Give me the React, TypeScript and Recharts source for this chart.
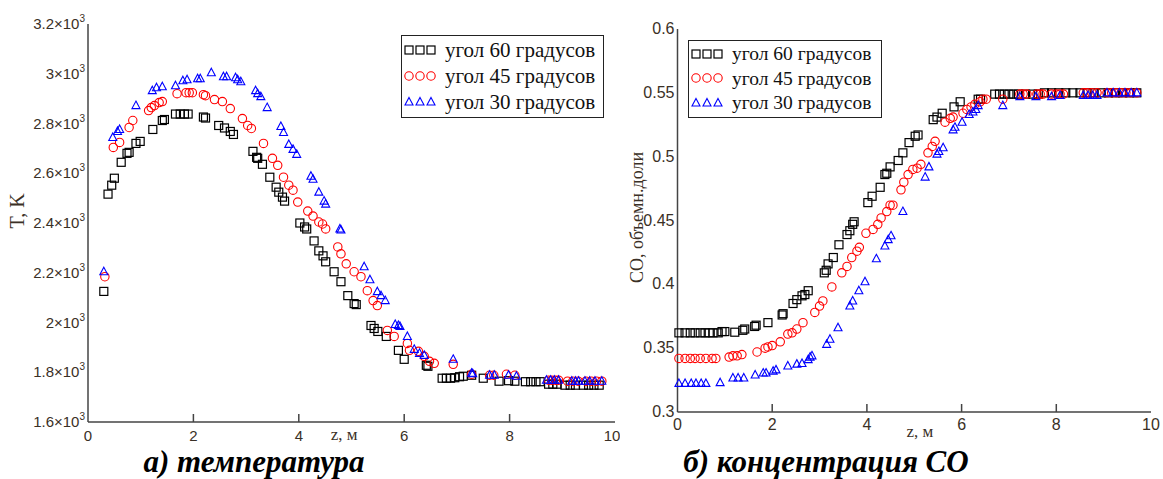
import { ScatterChart, Scatter, XAxis, YAxis } from 'recharts'

type Pt = [number, number]

// T(z), K
const t60: Pt[] = [
  [0.3, 2125], [0.38, 2516], [0.45, 2552], [0.5, 2580], [0.63, 2644], [0.74, 2680], [0.78, 2684],
  [0.91, 2720], [0.99, 2728], [1.23, 2776], [1.41, 2812], [1.45, 2816], [1.66, 2838], [1.75, 2838],
  [1.83, 2838], [1.9, 2838], [2.19, 2826], [2.23, 2822], [2.48, 2792], [2.59, 2782], [2.7, 2768],
  [2.76, 2756], [3.13, 2688], [3.2, 2664], [3.22, 2660], [3.31, 2636], [3.45, 2584], [3.57, 2544],
  [3.62, 2524], [3.69, 2504], [3.73, 2488], [4.02, 2400], [4.11, 2384], [4.15, 2376], [4.29, 2328],
  [4.38, 2288], [4.46, 2268], [4.51, 2244], [4.67, 2204], [4.8, 2164], [4.93, 2108], [5.05, 2076],
  [5.09, 2072], [5.37, 1988], [5.43, 1976], [5.5, 1964], [5.66, 1944], [5.89, 1888], [6.0, 1852],
  [6.42, 1828], [6.45, 1824], [6.72, 1776], [6.8, 1776], [6.88, 1776], [6.96, 1778], [7.05, 1782],
  [7.12, 1784], [7.28, 1788], [7.5, 1776], [7.8, 1764], [7.98, 1766], [8.1, 1764], [8.3, 1762],
  [8.4, 1762], [8.5, 1762], [8.58, 1762], [8.74, 1752], [8.82, 1752], [8.9, 1752], [9.05, 1748],
  [9.15, 1748], [9.25, 1748], [9.4, 1748], [9.5, 1748], [9.6, 1748], [9.7, 1748],
]

const t45: Pt[] = [
  [0.32, 2184], [0.48, 2704], [0.6, 2724], [0.78, 2784], [0.85, 2812], [1.15, 2852], [1.2, 2864],
  [1.26, 2872], [1.35, 2884], [1.41, 2888], [1.69, 2920], [1.86, 2924], [1.92, 2924], [1.98, 2924],
  [2.19, 2916], [2.23, 2912], [2.4, 2896], [2.55, 2888], [2.7, 2860], [2.93, 2820], [3.03, 2792],
  [3.1, 2780], [3.33, 2720], [3.5, 2660], [3.6, 2632], [3.71, 2584], [3.81, 2552], [3.89, 2532],
  [3.98, 2484], [4.17, 2448], [4.27, 2428], [4.38, 2404], [4.45, 2396], [4.51, 2376], [4.74, 2304],
  [4.8, 2276], [4.9, 2236], [5.05, 2204], [5.18, 2184], [5.3, 2128], [5.41, 2088], [5.49, 2068],
  [5.68, 1968], [5.81, 1944], [6.06, 1916], [6.1, 1888], [6.27, 1884], [6.38, 1864], [6.48, 1844],
  [6.57, 1836], [6.93, 1832], [7.28, 1792], [7.62, 1788], [7.7, 1788], [7.94, 1792], [8.1, 1788],
  [8.74, 1768], [8.8, 1768], [8.87, 1768], [8.93, 1768], [9.1, 1764], [9.2, 1764], [9.3, 1764],
  [9.45, 1764], [9.55, 1764], [9.65, 1764], [9.75, 1764],
]

const t30: Pt[] = [
  [0.3, 2204], [0.47, 2744], [0.56, 2768], [0.6, 2776], [0.91, 2872], [1.22, 2932], [1.3, 2944],
  [1.41, 2948], [1.66, 2952], [1.8, 2972], [1.88, 2976], [2.08, 2980], [2.13, 2980], [2.34, 3004],
  [2.57, 2988], [2.63, 2988], [2.8, 2984], [2.84, 2976], [2.9, 2968], [3.18, 2932], [3.22, 2920],
  [3.28, 2908], [3.4, 2864], [3.66, 2788], [3.71, 2764], [3.81, 2716], [3.89, 2696], [3.96, 2676],
  [4.23, 2588], [4.27, 2576], [4.38, 2524], [4.48, 2488], [4.51, 2476], [4.78, 2376], [4.8, 2372],
  [5.24, 2224], [5.35, 2172], [5.49, 2124], [5.56, 2108], [5.64, 2088], [5.83, 1992], [5.89, 1988],
  [5.92, 1984], [6.06, 1944], [6.19, 1892], [6.29, 1876], [6.38, 1868], [6.93, 1852], [7.28, 1796],
  [7.3, 1794], [7.62, 1788], [7.71, 1788], [7.98, 1788], [8.13, 1784], [8.7, 1768], [8.78, 1768],
  [8.85, 1768], [8.93, 1768], [9.18, 1764], [9.25, 1764], [9.31, 1764], [9.43, 1764], [9.52, 1764],
  [9.62, 1764], [9.75, 1764],
]

// CO, объемн. доли
const co60: Pt[] = [
  [0.03, 0.362], [0.16, 0.362], [0.27, 0.362], [0.37, 0.362], [0.48, 0.362], [0.58, 0.362],
  [0.67, 0.362], [0.75, 0.362], [0.86, 0.362], [0.94, 0.363], [1.0, 0.363], [1.21, 0.3625],
  [1.38, 0.364], [1.42, 0.365], [1.63, 0.367], [1.66, 0.368], [1.91, 0.37], [2.21, 0.376],
  [2.23, 0.377], [2.44, 0.385], [2.52, 0.388], [2.63, 0.391], [2.69, 0.392], [2.76, 0.395],
  [3.1, 0.409], [3.14, 0.411], [3.18, 0.416], [3.29, 0.421], [3.41, 0.431], [3.58, 0.439],
  [3.64, 0.442], [3.7, 0.447], [3.73, 0.449], [4.02, 0.464], [4.11, 0.469], [4.28, 0.476],
  [4.38, 0.486], [4.42, 0.487], [4.49, 0.492], [4.66, 0.497], [4.76, 0.503], [4.89, 0.511],
  [5.02, 0.516], [5.08, 0.517], [5.4, 0.529], [5.48, 0.531], [5.59, 0.534], [5.84, 0.539],
  [5.97, 0.543], [6.35, 0.545], [6.4, 0.545], [6.7, 0.549], [6.8, 0.549], [6.9, 0.549],
  [7.0, 0.549], [7.1, 0.549], [7.2, 0.549], [7.35, 0.549], [7.5, 0.549], [7.62, 0.549],
  [7.75, 0.55], [7.9, 0.55], [8.05, 0.55], [8.2, 0.55], [8.35, 0.55], [8.5, 0.55], [8.65, 0.55],
  [8.8, 0.55], [8.95, 0.55], [9.1, 0.55], [9.25, 0.55], [9.4, 0.55], [9.55, 0.55], [9.7, 0.55],
]

const co45: Pt[] = [
  [0.03, 0.342], [0.16, 0.342], [0.27, 0.342], [0.37, 0.342], [0.48, 0.342], [0.6, 0.342],
  [0.73, 0.342], [0.81, 0.342], [1.09, 0.343], [1.17, 0.344], [1.26, 0.344], [1.36, 0.345],
  [1.68, 0.347], [1.85, 0.35], [1.91, 0.351], [2.0, 0.352], [2.17, 0.355], [2.33, 0.361],
  [2.42, 0.362], [2.52, 0.365], [2.65, 0.37], [2.9, 0.378], [3.0, 0.383], [3.07, 0.387],
  [3.26, 0.398], [3.47, 0.409], [3.58, 0.414], [3.68, 0.421], [3.79, 0.426], [3.84, 0.429],
  [3.98, 0.44], [4.13, 0.443], [4.23, 0.447], [4.3, 0.452], [4.42, 0.457], [4.49, 0.462],
  [4.55, 0.462], [4.72, 0.474], [4.78, 0.48], [4.87, 0.486], [4.97, 0.49], [5.06, 0.491],
  [5.14, 0.494], [5.29, 0.503], [5.38, 0.508], [5.44, 0.512], [5.65, 0.527], [5.76, 0.53],
  [5.82, 0.531], [6.03, 0.534], [6.11, 0.537], [6.2, 0.539], [6.28, 0.541], [6.39, 0.543],
  [6.45, 0.545], [6.52, 0.545], [6.87, 0.545], [7.23, 0.549], [7.3, 0.549], [7.38, 0.549],
  [7.59, 0.549], [7.66, 0.549], [7.72, 0.549], [7.9, 0.549], [8.0, 0.549], [8.08, 0.549],
  [8.15, 0.549], [8.57, 0.55], [8.65, 0.55], [8.75, 0.55], [8.86, 0.55], [9.07, 0.55],
  [9.17, 0.55], [9.27, 0.55], [9.37, 0.55], [9.47, 0.55], [9.57, 0.55], [9.7, 0.55],
]

const co30: Pt[] = [
  [0.03, 0.3224], [0.16, 0.3224], [0.29, 0.3224], [0.39, 0.3224], [0.5, 0.3224], [0.6, 0.3224],
  [0.9, 0.323], [1.17, 0.3266], [1.28, 0.3266], [1.4, 0.3266], [1.64, 0.329], [1.81, 0.3305],
  [1.87, 0.3305], [2.02, 0.332], [2.08, 0.333], [2.33, 0.336], [2.52, 0.3375], [2.63, 0.338],
  [2.76, 0.341], [2.8, 0.343], [2.84, 0.344], [3.15, 0.353], [3.22, 0.357], [3.39, 0.366],
  [3.64, 0.383], [3.7, 0.387], [3.83, 0.395], [3.96, 0.402], [4.2, 0.42], [4.38, 0.43],
  [4.45, 0.435], [4.51, 0.438], [4.76, 0.457], [5.23, 0.484], [5.31, 0.492], [5.48, 0.502],
  [5.52, 0.504], [5.61, 0.507], [5.82, 0.521], [5.86, 0.523], [6.01, 0.527], [6.16, 0.533],
  [6.24, 0.535], [6.3, 0.537], [6.35, 0.54], [6.87, 0.54], [7.23, 0.547], [7.57, 0.547],
  [7.9, 0.547], [8.08, 0.548], [8.57, 0.548], [8.67, 0.548], [8.77, 0.548], [8.86, 0.548],
  [9.07, 0.55], [9.2, 0.55], [9.33, 0.55], [9.45, 0.55], [9.58, 0.55], [9.7, 0.55],
]

const seriesNames = ['угол 60 градусов', 'угол 45 градусов', 'угол 30 градусов']
const zTicks = [0, 2, 4, 6, 8, 10]
const tTicks = [1600, 1800, 2000, 2200, 2400, 2600, 2800, 3000, 3200]
const coTicks = [0.3, 0.35, 0.4, 0.45, 0.5, 0.55, 0.6]

const SERIF = '"Liberation Serif", "DejaVu Serif", serif'
const SANS = '"Liberation Sans", "DejaVu Sans", sans-serif'
const FRAME = '#444'
const LABEL = '#3a3026'
const TICK_LEN = 8

const toRows = (pts: Pt[]) => pts.map(([z, v]) => ({ z, v }))

// hollow markers, Mathcad style
const Square = (p: any) => (
  <rect x={p.cx - 4} y={p.cy - 4} width={8} height={8} fill="none" stroke="#000" strokeWidth={1.2} />
)
const Ring = (p: any) => (
  <circle cx={p.cx} cy={p.cy} r={4.2} fill="none" stroke="#ff0000" strokeWidth={1.1} />
)
const Tri = (p: any) => (
  <path
    d={`M${p.cx},${p.cy - 4.5}L${p.cx + 4},${p.cy + 3}L${p.cx - 4},${p.cy + 3}Z`}
    fill="none" stroke="#0000ff" strokeWidth={1.1}
  />
)
const shapes = [Square, Ring, Tri]

// bottom axis: label below, short tick pointing into the plot
const makeBottomTick = (dy: number, size: number, lo: number, hi: number) => (p: any) => {
  const v = p.payload.value
  return (
    <g>
      {v > lo && v < hi && <line x1={p.x} x2={p.x} y1={p.y} y2={p.y - TICK_LEN} stroke={FRAME} strokeWidth={1.5} />}
      <text x={p.x} y={p.y + dy} textAnchor="middle" fontFamily={SANS} fontSize={size} fill={LABEL}>{v}</text>
    </g>
  )
}
const makeTopTick = (lo: number, hi: number) => (p: any) => {
  const v = p.payload.value
  if (v <= lo || v >= hi) return <g />
  return <line x1={p.x} x2={p.x} y1={p.y} y2={p.y + TICK_LEN} stroke={FRAME} strokeWidth={1.5} />
}
const makeRightTick = (lo: number, hi: number) => (p: any) => {
  const v = p.payload.value
  if (v <= lo || v >= hi) return <g />
  return <line x1={p.x} x2={p.x - TICK_LEN} y1={p.y} y2={p.y} stroke={FRAME} strokeWidth={1.5} />
}

const TempTick = (p: any) => (
  <text x={p.x - 3} y={p.y + 5} textAnchor="end" fontFamily={SANS} fontSize={15} fill={LABEL}>
    {p.payload.value / 1000}×10<tspan dy={-7} fontSize={10}>3</tspan>
  </text>
)
const CoTick = (p: any) => (
  <text x={p.x - 3} y={p.y + 5} textAnchor="end" fontFamily={SANS} fontSize={16} fill={LABEL}>
    {p.payload.value}
  </text>
)

function LegendBox({ left, top, width, height, size }: any) {
  return (
    <div style={{
      position: 'absolute', left, top, width, height, boxSizing: 'border-box',
      border: '1.5px solid #222', background: '#fff', fontFamily: SERIF, fontSize: size,
      color: '#111', padding: '1px 0 0 2px', lineHeight: 1,
    }}>
      {seriesNames.map((name, i) => {
        const Shape = shapes[i]
        return (
          <div key={name} style={{ display: 'flex', alignItems: 'center', height: (height - 5) / 3 }}>
            <svg width={36} height={12} style={{ marginRight: 5 }}>
              {[5, 16, 27].map(cx => <Shape key={cx} cx={cx} cy={6} />)}
            </svg>
            <span>{name}</span>
          </div>
        )
      })}
    </div>
  )
}

const captionStyle: any = {
  position: 'absolute', top: 445, textAlign: 'center', fontFamily: SERIF, fontSize: 31,
  fontWeight: 'bold', fontStyle: 'italic', lineHeight: '33px', color: '#000', whiteSpace: 'nowrap',
}

export default function App() {
  const tempSets = [t60, t45, t30]
  const coSets = [co60, co45, co30]
  return (
    <div style={{ position: 'absolute', left: 0, top: 0, width: 1163, height: 479, background: '#fff', overflow: 'hidden' }}>
      {/* а) температура */}
      <div style={{ position: 'absolute', left: 0, top: 0 }}>
        <ScatterChart width={620} height={452} margin={{ top: 24, right: 5, bottom: 0, left: 0 }}>
          <XAxis
            dataKey="z" type="number" domain={[0, 10]} ticks={zTicks} height={30}
            axisLine={{ stroke: FRAME, strokeWidth: 1.5 }} tickLine={false} tickSize={0} tickMargin={0}
            tick={makeBottomTick(19, 15, 0, 10)}
            label={{ content: (l: any) => (
              <text x={l.viewBox.x + l.viewBox.width * 0.486} y={l.viewBox.y + 18} textAnchor="middle"
                fontFamily={SERIF} fontSize={17} fill={LABEL}>z, м</text>
            ) }}
          />
          <XAxis xAxisId="top" orientation="top" type="number" domain={[0, 10]} ticks={zTicks} height={0}
            axisLine={{ stroke: FRAME, strokeWidth: 1.5 }} tickLine={false} tickSize={0} tickMargin={0}
            tick={makeTopTick(0, 10)} />
          <YAxis
            dataKey="v" type="number" domain={[1600, 3200]} ticks={tTicks} width={88}
            axisLine={{ stroke: FRAME, strokeWidth: 1.5 }} tickLine={false} tickSize={0} tickMargin={0}
            tick={TempTick}
            label={{ content: (l: any) => {
              const cx = l.viewBox.x + 18
              const cy = l.viewBox.y + l.viewBox.height / 2 - 12
              return (
                <text x={cx} y={cy} transform={`rotate(-90 ${cx} ${cy})`} textAnchor="middle" dy={6}
                  fontFamily={SERIF} fontSize={20} fill={LABEL}>T, K</text>
              )
            } }}
          />
          <YAxis yAxisId="right" orientation="right" type="number" domain={[1600, 3200]} ticks={tTicks} width={0}
            axisLine={{ stroke: FRAME, strokeWidth: 1.5 }} tickLine={false} tickSize={0} tickMargin={0}
            tick={makeRightTick(1600, 3200)} />
          {tempSets.map((pts, i) => (
            <Scatter key={i} name={seriesNames[i]} data={toRows(pts)} shape={shapes[i]} isAnimationActive={false} />
          ))}
        </ScatterChart>
      </div>

      {/* б) концентрация СО */}
      <div style={{ position: 'absolute', left: 620, top: 0, background: '#fff' }}>
        <ScatterChart width={543} height={442} margin={{ top: 29, right: 12, bottom: 0, left: 0 }}>
          <XAxis
            dataKey="z" type="number" domain={[0, 10]} ticks={zTicks} height={30}
            axisLine={{ stroke: FRAME, strokeWidth: 1.5 }} tickLine={false} tickSize={0} tickMargin={0}
            tick={makeBottomTick(18, 16, 0, 10)}
            label={{ content: (l: any) => (
              <text x={l.viewBox.x + l.viewBox.width * 0.512} y={l.viewBox.y + 25} textAnchor="middle"
                fontFamily={SERIF} fontSize={17} fill={LABEL}>z, м</text>
            ) }}
          />
          <XAxis xAxisId="top" orientation="top" type="number" domain={[0, 10]} ticks={zTicks} height={0}
            axisLine={{ stroke: FRAME, strokeWidth: 1.5 }} tickLine={false} tickSize={0} tickMargin={0}
            tick={makeTopTick(0, 10)} />
          <YAxis
            dataKey="v" type="number" domain={[0.3, 0.6]} ticks={coTicks} width={57.5}
            axisLine={{ stroke: FRAME, strokeWidth: 1.5 }} tickLine={false} tickSize={0} tickMargin={0}
            tick={CoTick}
            label={{ content: (l: any) => {
              const cx = l.viewBox.x + 17
              const cy = l.viewBox.y + l.viewBox.height / 2 - 3
              return (
                <text x={cx} y={cy} transform={`rotate(-90 ${cx} ${cy})`} textAnchor="middle" dy={6}
                  fontFamily={SERIF} fontSize={18} fill={LABEL}>CO, объемн.доли</text>
              )
            } }}
          />
          <YAxis yAxisId="right" orientation="right" type="number" domain={[0.3, 0.6]} ticks={coTicks} width={0}
            axisLine={{ stroke: FRAME, strokeWidth: 1.5 }} tickLine={false} tickSize={0} tickMargin={0}
            tick={makeRightTick(0.3, 0.6)} />
          {coSets.map((pts, i) => (
            <Scatter key={i} name={seriesNames[i]} data={toRows(pts)} shape={shapes[i]} isAnimationActive={false} />
          ))}
        </ScatterChart>
      </div>

      <LegendBox left={401} top={35} width={203} height={83} size={21} />
      <LegendBox left={688} top={40} width={194} height={78} size={19.5} />

      <div style={{ ...captionStyle, left: 4, width: 500 }}>а) температура</div>
      <div style={{ ...captionStyle, left: 626, width: 400 }}>б) концентрация СО</div>
    </div>
  )
}
